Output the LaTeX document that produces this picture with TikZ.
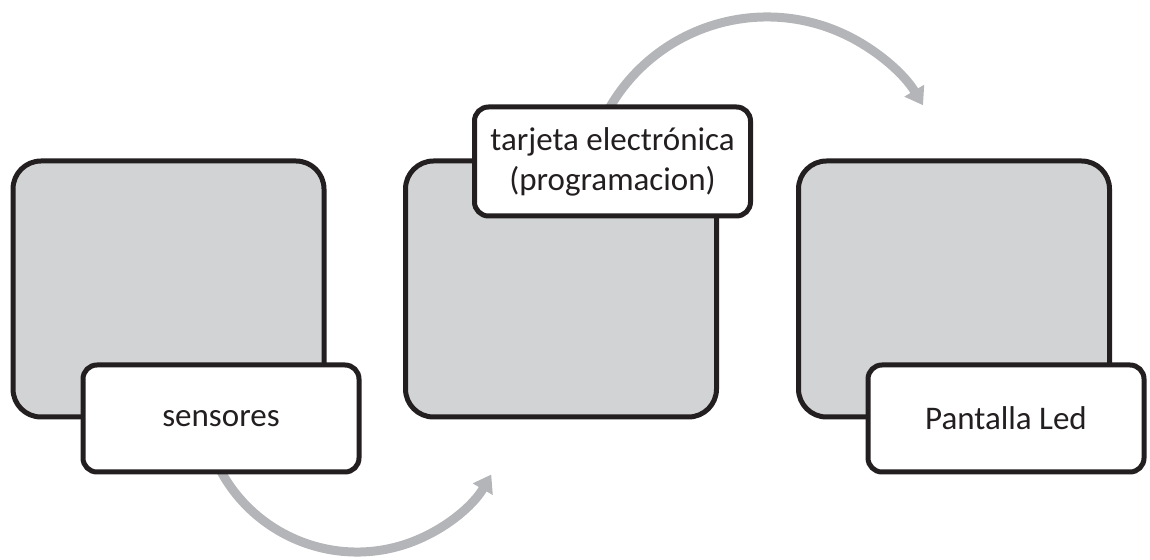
\documentclass[tikz,border=0pt]{standalone}
\usepackage{fontspec}
\setmainfont{Carlito}
\usetikzlibrary{arrows.meta}
\definecolor{edge}{HTML}{231F20}
\definecolor{panel}{HTML}{D1D3D4}
\definecolor{flow}{HTML}{B4B5B8}
\begin{document}
\begin{tikzpicture}[x=1pt,y=1pt,
  panelbox/.style={draw=edge, fill=panel, line width=5pt, rounded corners=28pt,
    minimum width=311pt, minimum height=256pt, inner sep=0pt, outer sep=0pt},
  tagbox/.style={draw=edge, fill=white, line width=5pt, rounded corners=14pt,
    minimum width=276pt, minimum height=107pt, inner sep=0pt, outer sep=0pt,
    font=\fontsize{33}{40}\selectfont, text=edge, align=center},
  flowarrow/.style={draw=flow, line width=9pt, -{Triangle[length=17pt,width=22pt]}}]
\useasboundingbox (0,0) rectangle (1150,559);

% three grey panels
\node[panelbox] (p1) at (168.5,270) {};
\node[panelbox] (p2) at (561,270) {};
\node[panelbox] (p3) at (954,270) {};

% curved flow arrows (centres of the arcs)
\coordinate (o1) at (357,162);
\coordinate (o2) at (767,360);
\draw[flowarrow] ([shift={(200:155)}]o1) arc[start angle=200, end angle=330, radius=155];
\draw[flowarrow] ([shift={(155:182)}]o2) arc[start angle=155, end angle=31, radius=182];

% white captions
\node[tagbox] (t1) at (221,140.5) {sensores};
\node[tagbox, minimum height=109pt] (t2) at (612.5,397.5) {tarjeta electrónica\\(programacion)};
\node[tagbox] (t3) at (1006,140.5) {Pantalla Led};
\end{tikzpicture}
\end{document}
